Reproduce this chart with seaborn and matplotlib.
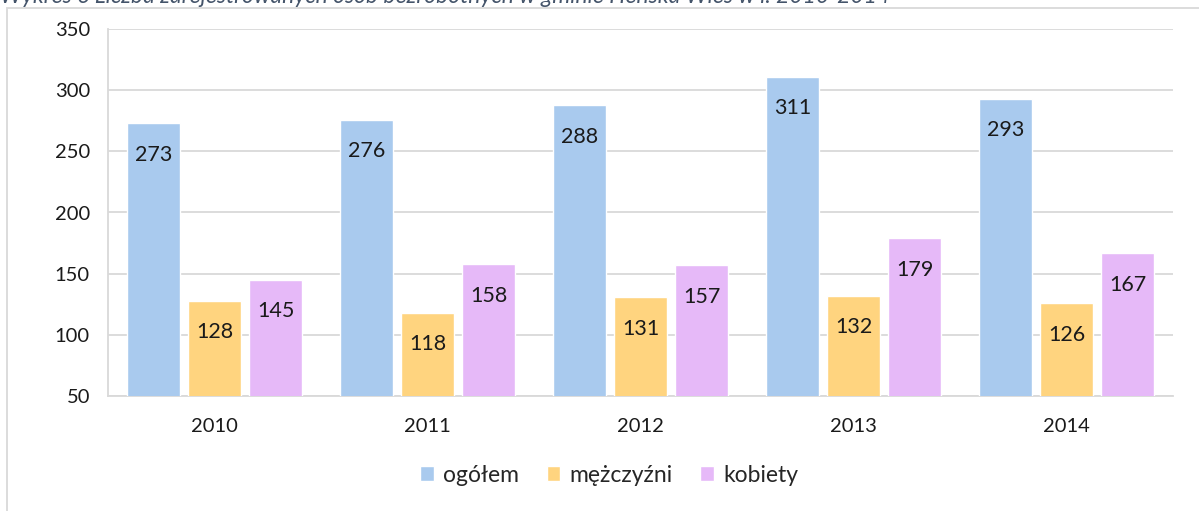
import pandas as pd
import matplotlib.pyplot as plt
import seaborn as sns
from matplotlib.patches import Rectangle

years = ['2010', '2011', '2012', '2013', '2014']
ogolem = [273, 276, 288, 311, 293]
mezczyzni = [128, 118, 131, 132, 126]
kobiety = [145, 158, 157, 179, 167]
series_names = ['ogółem', 'mężczyźni', 'kobiety']
colors = ['#A9CAEE', '#FFD47F', '#E6B9F8']
title = 'Wykres 6 Liczba zarejestrowanych osób bezrobotnych w gminie Henska Wieś w l. 2010-2014'

# long format for seaborn
df = pd.DataFrame({
    'rok': years * 3,
    'grupa': [series_names[0]] * 5 + [series_names[1]] * 5 + [series_names[2]] * 5,
    'liczba': ogolem + mezczyzni + kobiety,
})

sns.set_style('white')
plt.rcParams['font.family'] = ['Lato', 'DejaVu Sans']

fig = plt.figure(figsize=(11.99, 5.11), dpi=100)
ax = fig.add_axes([108 / 1199, 1 - 396 / 511, (1173 - 108) / 1199, (396 - 29) / 511])

sns.barplot(data=df, x='rok', y='liczba', hue='grupa', palette=colors, saturation=1,
            width=0.86, gap=0.13, ax=ax, legend=True, zorder=3)

for c in ax.containers:
    ax.bar_label(c, label_type='edge', padding=-30, fontsize=15.5, color='#1a1a1a')

ax.set_ylim(50, 350)
ax.set_xlim(-0.5, 4.5)
ax.set_yticks(range(50, 351, 50))
ax.set_xlabel('')
ax.set_ylabel('')
ax.yaxis.grid(True, color='#D9D9D9', linewidth=1.3, zorder=0)
ax.set_axisbelow(True)

# excel style ticks between categories
ax.set_xticks([0, 1, 2, 3, 4])
ax.set_xticks([-0.5, 0.5, 1.5, 2.5, 3.5, 4.5], minor=True)
ax.tick_params(axis='x', which='major', length=0, pad=16, labelsize=14.5, labelcolor='#1a1a1a')
ax.tick_params(axis='x', which='minor', length=7, width=1.3, color='#D9D9D9', direction='out')
ax.tick_params(axis='y', length=7, width=1.3, color='#D9D9D9', labelsize=14.5,
               labelcolor='#1a1a1a', pad=6)

for s in ['top', 'right']:
    ax.spines[s].set_visible(False)
for s in ['left', 'bottom']:
    ax.spines[s].set_color('#D9D9D9')
    ax.spines[s].set_linewidth(1.3)

ax.get_legend().remove()
handles, labels = ax.get_legend_handles_labels()
fig.legend(handles, labels, loc='center', bbox_to_anchor=(0.508, 1 - 475 / 511),
           ncol=3, frameon=False, fontsize=16.5, handlelength=0.6, handleheight=0.6,
           handletextpad=0.4, columnspacing=1.2)

# outer chart frame
fig.patches.append(Rectangle((7 / 1199, -0.1), 1.2, 1 - 8 / 511 + 0.1,
                             transform=fig.transFigure, fill=False,
                             edgecolor='#D9D9D9', linewidth=1.3))

# title cut off at the top edge
fig.text(0.0, 1 - 3 / 511, title, fontsize=16.5, style='italic', color='#44546A',
         ha='left', va='baseline')

fig.savefig('out.png', dpi=100)
